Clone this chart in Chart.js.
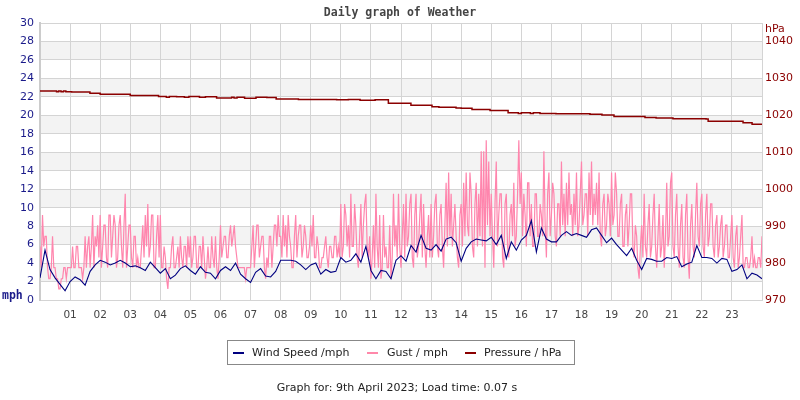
<!DOCTYPE html>
<html>
<head>
<meta charset="utf-8">
<script src="https://cdn.jsdelivr.net/npm/chart.js@4/dist/chart.umd.min.js"></script>
<style>
html,body{margin:0;padding:0;background:#fff;}
#wrap{position:relative;width:800px;height:400px;overflow:hidden;}
#c{position:absolute;left:0;top:0;}
.abs{position:absolute;white-space:nowrap;}
#title{left:0;width:800px;top:5px;text-align:center;font:bold 11.5px "DejaVu Sans Mono";color:#444;}
#mph{left:2px;top:288px;font:bold 11.5px "DejaVu Sans Mono";color:#1a1a8a;}
#hpa{left:765px;top:22px;font:11px "DejaVu Sans";color:#8b0000;}
#legend{left:227px;top:340px;width:346px;height:23px;border:1px solid #888;font:11px "DejaVu Sans";color:#222;}
.item{position:absolute;top:5px;}
.dash{position:absolute;width:11px;height:2px;top:11px;}
#footer{left:0;width:794px;top:381px;text-align:center;font:11px "DejaVu Sans";color:#222;}
</style>
</head>
<body>
<div id="wrap">
<canvas id="c" width="800" height="400"></canvas>
<div id="title" class="abs">Daily graph of Weather</div>
<div id="mph" class="abs">mph</div>
<div id="hpa" class="abs">hPa</div>
<div id="legend" class="abs">
  <span class="dash" style="left:5px;background:#000080"></span><span class="item" style="left:24px">Wind Speed /mph</span>
  <span class="dash" style="left:139px;background:#ff88aa"></span><span class="item" style="left:159px">Gust / mph</span>
  <span class="dash" style="left:237px;background:#8b0000"></span><span class="item" style="left:256px">Pressure / hPa</span>
</div>
<div id="footer" class="abs">Graph for: 9th April 2023; Load time: 0.07 s</div>
</div>
<script>
// x-axis tick labels (hours)
const hourTicks = ['01','02','03','04','05','06','07','08','09','10','11','12','13','14','15','16','17','18','19','20','21','22','23'];

// Wind speed (mph), one reading every 10 minutes from 00:00 to 24:00
const windSpeed = [
 2.4,5.4,3.3,2.4,1.7,1.0, 2.0,2.5,2.2,1.6,3.1,3.8,
 4.3,4.1,3.8,4.0,4.3,4.0, 3.6,3.7,3.5,3.2,4.1,3.5,
 2.9,3.4,2.3,2.7,3.4,3.7, 3.2,2.8,3.6,3.0,2.9,2.3,
 3.2,3.6,3.2,4.0,2.8,2.3, 1.9,3.0,3.4,2.6,2.5,3.1,
 4.3,4.3,4.3,4.2,3.8,3.3, 3.8,4.0,2.8,3.3,3.0,3.1,
 4.6,4.1,4.3,5.0,4.1,5.8, 3.2,2.3,3.2,3.1,2.3,4.3,
 4.8,4.2,5.9,5.2,7.0,5.6, 5.4,6.0,5.3,6.6,6.8,6.2,
 4.2,5.6,6.3,6.6,6.5,6.4, 6.8,6.0,7.0,4.5,6.3,5.4,
 6.5,7.0,8.6,5.2,7.8,6.6, 6.3,6.3,7.0,7.4,7.0,7.2,
 7.0,6.8,7.6,7.8,7.0,6.2, 6.7,6.0,5.4,4.8,5.6,4.3,
 3.3,4.5,4.4,4.2,4.2,4.6, 4.5,4.7,3.6,3.9,4.1,5.9,
 4.6,4.6,4.5,4.0,4.5,4.4, 3.1,3.3,3.8,2.3,2.9,2.7,
 2.3
];

// Gust (mph), one reading every 2.5 minutes from 00:00 to 24:00 (one row per hour)
const gust = [
 5.8,3.5,9.2,5.8,6.9,6.9,3.5,2.3,2.3,3.5,6.9,3.5, 3.5,2.3,2.3,1.2,1.2,2.3,2.3,3.5,3.5,2.3,3.5,3.5,
 3.5,3.5,5.8,3.5,3.5,5.8,5.8,3.5,3.5,3.5,2.3,3.5, 6.9,3.5,5.8,6.9,3.5,5.8,9.2,3.5,6.9,5.8,8.1,4.6,
 9.2,3.5,5.8,8.1,8.1,4.6,3.5,9.2,9.2,4.6,6.9,9.2, 8.1,3.5,4.6,8.1,9.2,5.8,3.5,8.1,11.5,3.5,5.8,8.1,
 8.1,4.6,3.5,6.9,6.9,3.5,4.6,3.5,3.5,5.8,8.1,4.6, 9.2,5.8,10.4,4.6,5.8,9.2,9.2,3.5,3.5,6.9,9.2,4.6,
 9.2,3.5,3.5,5.8,4.6,2.3,1.2,3.5,3.5,5.8,6.9,3.5, 3.5,4.6,5.8,3.5,6.9,4.6,3.5,5.8,5.8,3.5,6.9,4.6,
 6.9,3.5,4.6,6.9,6.9,3.5,3.5,5.8,5.8,3.5,6.9,4.6, 2.3,3.5,5.8,3.5,3.5,6.9,4.6,3.5,6.9,3.5,2.3,4.6,
 8.1,4.6,5.8,6.9,6.9,4.6,4.6,6.9,8.1,5.8,6.9,8.1, 5.8,4.6,3.5,3.5,3.5,3.5,3.5,3.5,2.3,3.5,3.5,3.5,
 3.5,5.8,8.1,3.5,5.8,8.1,8.1,4.6,5.8,6.9,6.9,3.5, 2.3,4.6,3.5,6.9,6.9,3.5,5.8,8.1,8.1,5.8,9.2,6.9,
 6.9,4.6,9.2,5.8,8.1,4.6,9.2,6.9,5.8,3.5,3.5,6.9, 9.2,4.6,6.9,8.1,8.1,4.6,5.8,8.1,6.9,4.6,4.6,5.8,
 8.1,5.8,9.2,4.6,4.6,6.9,5.8,3.5,3.5,4.6,4.6,5.8, 6.9,4.6,3.5,5.8,5.8,4.6,4.6,6.9,6.9,4.6,5.8,4.6,
 10.4,4.6,5.8,10.4,9.2,5.8,8.1,4.6,11.5,5.8,5.8,10.4, 8.1,4.6,3.5,6.9,10.4,4.6,8.1,10.4,11.5,5.8,4.6,6.9,
 2.3,4.6,8.1,3.5,11.5,5.8,3.5,9.2,2.3,3.5,9.2,4.6, 5.8,3.5,3.5,8.1,2.3,4.6,11.5,5.8,8.1,4.6,11.5,5.8,
 3.5,6.9,10.4,4.6,11.5,5.8,6.9,10.4,11.5,4.6,3.5,9.2, 11.5,4.6,5.8,9.2,11.5,4.6,10.4,5.8,3.5,6.9,9.2,4.6,
 10.4,4.6,6.9,10.4,11.5,5.8,4.6,9.2,10.4,5.8,3.5,8.1, 12.7,5.8,13.8,6.9,11.5,5.8,8.1,10.4,6.9,4.6,3.5,9.2,
 10.4,5.8,12.7,6.9,13.8,8.1,6.9,13.8,11.5,5.8,4.6,10.4, 12.7,5.8,11.5,6.9,16.1,5.8,16.1,3.5,17.3,8.1,15.0,6.9,
 11.5,6.9,3.5,10.4,15.0,5.8,9.2,11.5,11.5,4.6,3.5,10.4, 11.5,5.8,4.6,9.2,10.4,6.9,12.7,5.8,6.9,11.5,17.3,10.4,
 13.8,6.9,11.5,9.2,5.8,12.7,12.7,6.9,10.4,5.8,5.8,11.5, 11.5,6.9,6.9,10.4,9.2,6.9,16.1,8.1,4.6,11.5,13.8,6.9,
 9.2,12.7,11.5,6.9,5.8,10.4,10.4,6.9,15.0,8.1,11.5,6.9, 12.7,8.1,13.8,9.2,10.4,6.9,11.5,8.1,13.8,6.9,8.1,11.5,
 15.0,8.1,9.2,11.5,11.5,6.9,13.8,9.2,15.0,8.1,11.5,9.2, 12.7,8.1,13.8,6.9,5.8,10.4,11.5,6.9,8.1,11.5,10.4,6.9,
 13.8,8.1,9.2,13.8,11.5,6.9,6.9,10.4,11.5,5.8,5.8,9.2, 10.4,5.8,8.1,11.5,11.5,5.8,4.6,8.1,6.9,3.5,2.3,5.8,
 8.1,4.6,11.5,5.8,4.6,8.1,10.4,4.6,5.8,9.2,11.5,5.8, 3.5,6.9,10.4,4.6,5.8,9.2,3.5,6.9,12.7,5.8,6.9,12.7,
 13.8,5.8,4.6,9.2,11.5,5.8,3.5,8.1,10.4,4.6,3.5,9.2, 11.5,4.6,2.3,8.1,10.4,5.8,4.6,9.2,12.7,6.9,5.8,10.4,
 11.5,5.8,4.6,9.2,11.5,5.8,6.9,10.4,10.4,5.8,4.6,8.1, 9.2,4.6,5.8,8.1,9.2,4.6,5.8,8.1,8.1,4.6,4.6,6.9,
 9.2,4.6,3.5,6.9,8.1,3.5,4.6,6.9,9.2,3.5,3.5,4.6, 4.6,3.5,3.5,4.6,6.9,3.5,4.6,3.5,3.5,4.6,4.6,3.5,
 6.9
];

// Pressure (hPa): hour at which each reading starts, and the reading
const pressureTimes = [0,0.55,0.62,0.7,0.78,0.86,1.05,1.66,2.0,3.0,3.94,4.2,4.3,4.54,4.8,4.95,5.3,5.5,5.87,6.37,6.45,6.55,6.8,7.18,7.54,7.85,8.59,9.86,10.25,10.64,11.14,11.58,12.33,13.03,13.26,13.83,14.0,14.36,14.96,15.56,15.9,16.0,16.3,16.4,16.62,17.15,18.28,18.68,19.08,20.11,20.48,21.04,22.14,22.21,23.37,23.67,24];
const pressureValues = [1026.6,1026.4,1026.6,1026.4,1026.6,1026.4,1026.3,1026.0,1025.7,1025.4,1025.1,1024.9,1025.1,1025.0,1024.9,1025.1,1024.9,1025.0,1024.7,1024.9,1024.7,1024.9,1024.6,1024.9,1024.8,1024.4,1024.3,1024.2,1024.3,1024.1,1024.2,1023.3,1022.7,1022.3,1022.2,1022.0,1021.9,1021.6,1021.3,1020.7,1020.5,1020.7,1020.5,1020.7,1020.5,1020.4,1020.3,1020.1,1019.7,1019.4,1019.3,1019.1,1019.0,1018.4,1018.0,1017.6,1017.6];

const bandPlugin = {
  id: 'bands',
  beforeDraw(chart) {
    const {ctx, chartArea: a, scales: {y}} = chart;
    ctx.save();
    ctx.fillStyle = '#f3f3f3';
    for (let v = 2; v < 30; v += 4) {
      const top = y.getPixelForValue(v + 2), bot = y.getPixelForValue(v);
      ctx.fillRect(a.left, top, a.right - a.left, bot - top);
    }
    ctx.restore();
  }
};

const gridColor = '#d4d4d4';
new Chart(document.getElementById('c'), {
  type: 'line',
  data: {
    datasets: [
      {label: 'Wind Speed /mph', data: windSpeed.map((v, i) => ({x: i / 6, y: v})), borderColor: '#000080', borderWidth: 1.1, pointRadius: 0, yAxisID: 'y', tension: 0},
      {label: 'Gust / mph', data: gust.map((v, i) => ({x: i / 24, y: v})), borderColor: '#ff85ad', borderWidth: 1.2, pointRadius: 0, yAxisID: 'y', tension: 0},
      {label: 'Pressure / hPa', data: pressureTimes.map((t, i) => ({x: t, y: pressureValues[i]})), borderColor: '#8b0000', borderWidth: 1.5, pointRadius: 0, yAxisID: 'y1', stepped: 'before'}
    ]
  },
  options: {
    responsive: false,
    animation: false,
    layout: {padding: {top: 23, left: 0, right: 0, bottom: 0}},
    plugins: {legend: {display: false}, tooltip: {enabled: false}, title: {display: false}},
    scales: {
      x: {
        type: 'linear', min: 0, max: 24,
        afterFit(s) { s.height = 100; },
        ticks: {stepSize: 1, autoSkip: false, maxRotation: 0, padding: 9, color: '#444',
          font: {family: 'DejaVu Sans', size: 10.5},
          callback: v => hourTicks[v - 1] ?? ''},
        grid: {color: gridColor, drawTicks: false, lineWidth: 1},
        border: {display: true, color: gridColor, width: 1}
      },
      y: {
        position: 'left', min: 0, max: 30,
        afterFit(s) { s.width = 40; },
        ticks: {stepSize: 2, padding: 6, color: '#1a1a8a', font: {family: 'DejaVu Sans', size: 11}},
        grid: {color: gridColor, drawTicks: false, lineWidth: 1},
        border: {display: true, color: '#cccccc', width: 2}
      },
      y1: {
        position: 'right', min: 970, max: 1045,
        afterFit(s) { s.width = 38; },
        ticks: {stepSize: 10, padding: 3, color: '#8b0000', font: {family: 'DejaVu Sans', size: 11},
          callback: v => (v % 10 === 0 ? String(v) : '')},
        grid: {display: false, drawTicks: false},
        border: {display: true, color: gridColor, width: 1}
      }
    }
  },
  plugins: [bandPlugin]
});
</script>
</body>
</html>
